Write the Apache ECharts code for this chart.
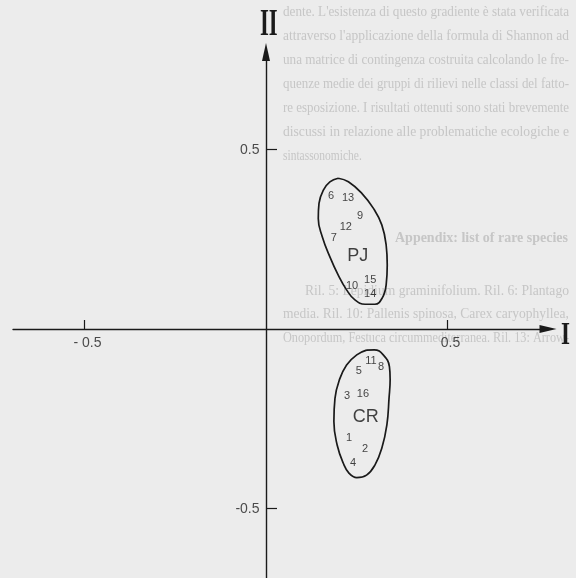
<!DOCTYPE html>
<html>
<head>
<meta charset="utf-8">
<script src="https://cdn.jsdelivr.net/npm/echarts@6/dist/echarts.min.js"></script>
<style>
  html, body { margin: 0; padding: 0; background: #ececec; }
  #chart { width: 576px; height: 578px; }
</style>
</head>
<body>
<div id="chart"></div>
<script>
// Relevés of group PJ: number and scores on axes I and II
const relevePJ = ['6', '13', '9', '12', '7', '10', '15', '14'];
const pjAxisI  = [0.179, 0.226, 0.259, 0.220, 0.187, 0.237, 0.287, 0.287];
const pjAxisII = [0.370, 0.365, 0.315, 0.284, 0.253, 0.120, 0.136, 0.097];

// Relevés of group CR
const releveCR = ['11', '8', '5', '3', '16', '1', '2', '4'];
const crAxisI  = [0.289, 0.317, 0.256, 0.223, 0.267, 0.229, 0.273, 0.240];
const crAxisII = [-0.089, -0.106, -0.117, -0.187, -0.181, -0.304, -0.334, -0.373];

// Group names, placed at the centre of each envelope
const groupNames   = ['PJ', 'CR'];
const groupAxisI   = [0.253, 0.275];
const groupAxisII  = [0.203, -0.245];

// Envelopes drawn round each group (closed outlines)
const pjHullI  = [0.199, 0.227, 0.264, 0.296, 0.319, 0.331, 0.334, 0.331, 0.320, 0.300, 0.273, 0.245, 0.222, 0.199, 0.176, 0.155, 0.144, 0.146, 0.158, 0.176, 0.199];
const pjHullII = [0.420, 0.410, 0.378, 0.336, 0.290, 0.234, 0.178, 0.123, 0.086, 0.069, 0.069, 0.081, 0.109, 0.150, 0.201, 0.257, 0.308, 0.350, 0.387, 0.410, 0.420];
const crHullI  = [0.277, 0.298, 0.323, 0.340, 0.342, 0.339, 0.333, 0.319, 0.300, 0.277, 0.250, 0.229, 0.213, 0.196, 0.187, 0.190, 0.202, 0.222, 0.250, 0.277];
const crHullII = [-0.059, -0.058, -0.072, -0.105, -0.140, -0.192, -0.267, -0.332, -0.379, -0.407, -0.414, -0.402, -0.374, -0.323, -0.258, -0.193, -0.142, -0.100, -0.072, -0.059];

// Axis ticks and their labels
const xTicks = [-0.5, 0.5];
const xTickLabels = ['- 0.5', '0.5'];
const yTicks = [-0.5, 0.5];
const yTickLabels = ['-0.5', '0.5'];
const axisTitles = ['I', 'II'];

// Faint text showing through from the other side of the page
const pageLines = [
  "dente. L'esistenza di questo gradiente è stata verificata",
  "attraverso l'applicazione della formula di Shannon ad",
  "una matrice di contingenza costruita calcolando le fre-",
  "quenze medie dei gruppi di rilievi nelle classi del fatto-",
  "re esposizione. I risultati ottenuti sono stati brevemente",
  "discussi in relazione alle problematiche ecologiche e",
  "sintassonomiche.",
  "Appendix: list of rare species",
  "Ril. 5: Lepidium graminifolium. Ril. 6: Plantago",
  "media. Ril. 10: Pallenis spinosa, Carex caryophyllea,",
  "Onopordum, Festuca circummediterranea. Ril. 13: Arrow-"
];
// layout of those lines: [left, right (null = natural width), centre y, bold]
const pageLayout = [
  [283, 569, 13, false], [283, 569, 37, false], [283, 569, 61, false],
  [283, 569, 85, false], [283, 569, 109, false], [283, 569, 133, false],
  [283, null, 157, false], [395, 568, 239, true], [305, 569, 292, false],
  [283, 569, 315, false], [283, 569, 339, false]
];

const INK = '#1a1a1a';
const SANS = '"Liberation Sans", Arial, Helvetica, sans-serif';
const SERIF = '"Liberation Serif", "Times New Roman", serif';

const chart = echarts.init(document.getElementById('chart'), null, { renderer: 'canvas' });

// grid geometry (pixels)
const gridLeft = 13, gridRight = 548, gridTop = 52, gridBottom = 578;
const origin = [266, 329];
const pxPerUnitX = 363, pxPerUnitY = 359;
const xMin = (gridLeft - origin[0]) / pxPerUnitX;
const xMax = (gridRight - origin[0]) / pxPerUnitX;
const yMax = (origin[1] - gridTop) / pxPerUnitY;
const yMin = (origin[1] - gridBottom) / pxPerUnitY;

function pairs(xs, ys) { return xs.map((x, i) => [x, ys[i]]); }
function labelled(names, xs, ys) { return names.map((n, i) => ({ name: n, value: [xs[i], ys[i]] })); }

// measure page lines so they can be justified to the column
const measureCtx = document.createElement('canvas').getContext('2d');
const pageSize = 14;
const pageGraphics = pageLines.map((t, i) => {
  const [left, right, y, bold] = pageLayout[i];
  const font = (bold ? 'bold ' : '') + pageSize + 'px ' + SERIF;
  measureCtx.font = font;
  const w = measureCtx.measureText(t).width;
  const sx = right == null ? 0.82 : (right - left) / w;
  return {
    type: 'text', left: left, top: y - 8, z: -10, silent: true,
    scaleX: sx, originX: 0,
    style: { text: t, font: font, fill: '#c6c6c6' }
  };
});

const numberLabel = { show: true, position: 'inside', formatter: '{b}', color: '#141414', fontFamily: SANS };

const option = {
  backgroundColor: '#ececec',
  animation: false,
  grid: {
    left: gridLeft, top: gridTop, width: gridRight - gridLeft, height: gridBottom - gridTop,
    containLabel: false, outerBoundsMode: 'none'
  },
  xAxis: {
    type: 'value', min: xMin, max: xMax,
    splitLine: { show: false },
    axisLine: { onZero: true, lineStyle: { color: INK, width: 1.4 }, symbol: ['none', 'triangle'], symbolSize: [8, 17] },
    axisTick: { customValues: xTicks, inside: true, length: 9, lineStyle: { color: INK, width: 1.2 } },
    axisLabel: { show: false }
  },
  yAxis: {
    type: 'value', min: yMin, max: yMax,
    splitLine: { show: false },
    axisLine: { onZero: true, lineStyle: { color: INK, width: 1.4 }, symbol: ['none', 'triangle'], symbolSize: [8, 18] },
    axisTick: { customValues: yTicks, inside: true, length: 11, lineStyle: { color: INK, width: 1.2 } },
    axisLabel: { show: false }
  },
  series: [
    {
      type: 'line', data: pairs(pjHullI, pjHullII), smooth: 0.45, symbol: 'none',
      lineStyle: { color: INK, width: 1.7 }, silent: true
    },
    {
      type: 'line', data: pairs(crHullI, crHullII), smooth: 0.45, symbol: 'none',
      lineStyle: { color: INK, width: 1.7 }, silent: true
    },
    {
      // relevé numbers
      type: 'scatter', symbolSize: 1, itemStyle: { color: 'rgba(0,0,0,0)' },
      data: labelled(relevePJ, pjAxisI, pjAxisII).concat(labelled(releveCR, crAxisI, crAxisII)),
      label: Object.assign({ fontSize: 11 }, numberLabel)
    },
    {
      // group names
      type: 'scatter', symbolSize: 1, itemStyle: { color: 'rgba(0,0,0,0)' },
      data: labelled(groupNames, groupAxisI, groupAxisII),
      label: Object.assign({ fontSize: 18 }, numberLabel)
    },
    {
      // tick labels of axis I, set just under the axis line
      type: 'scatter', symbolSize: 1, itemStyle: { color: 'rgba(0,0,0,0)' }, silent: true,
      data: xTicks.map((v, i) => ({ name: xTickLabels[i], value: [v, 0] })),
      label: { show: true, position: 'bottom', distance: 7, offset: [3, 0], formatter: '{b}',
        fontSize: 14, color: '#222', fontFamily: SANS }
    },
    {
      // tick labels of axis II, set left of the axis line
      type: 'scatter', symbolSize: 1, itemStyle: { color: 'rgba(0,0,0,0)' }, silent: true,
      data: yTicks.map((v, i) => ({ name: yTickLabels[i], value: [0, v] })),
      label: { show: true, position: 'left', distance: 6, offset: [0, 1], formatter: '{b}',
        fontSize: 14, color: '#222', fontFamily: SANS }
    }
  ],
  graphic: pageGraphics.concat([
    {
      type: 'text', left: 561, top: 320, scaleX: 0.72, originX: 0,
      style: { text: axisTitles[0], font: 'bold 32px ' + SERIF, fill: INK }
    },
    {
      type: 'text', left: 260, top: 6, scaleX: 0.6, originX: 0,
      style: { text: axisTitles[1], font: 'bold 38px ' + SERIF, fill: INK }
    }
  ])
};

chart.setOption(option);
</script>
</body>
</html>
